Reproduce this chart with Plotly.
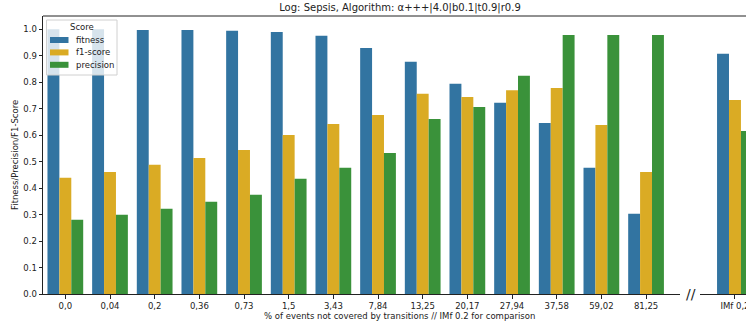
import plotly.graph_objects as go

categories = ["0,0", "0,04", "0,2", "0,36", "0,73", "1,5", "3,43", "7,84",
              "13,25", "20,17", "27,94", "37,58", "59,02", "81,25"]
fitness = [1.0, 1.0, 0.997, 0.997, 0.994, 0.99, 0.975, 0.929, 0.877, 0.794,
           0.722, 0.646, 0.477, 0.303]
f1_score = [0.439, 0.461, 0.488, 0.514, 0.544, 0.601, 0.642, 0.676, 0.756,
            0.744, 0.770, 0.778, 0.638, 0.461]
precision = [0.280, 0.299, 0.322, 0.348, 0.375, 0.435, 0.477, 0.533, 0.661,
             0.706, 0.824, 0.978, 0.978, 0.978]

cmp_category = ["IMf 0,2"]
cmp_fitness = [0.907]
cmp_f1 = [0.733]
cmp_precision = [0.616]

series_names = ["fitness", "f1-score", "precision"]
colors = ["#3274a1", "#daab24", "#3a923a"]

W, H = 746, 325
ml, mr, mt, mb = 43, 0, 16, 31
pw = W - ml - mr
ph = H - mt - mb


def px(x):
    return (x - ml) / pw


def py(y):
    return (H - mb - y) / ph


fig = go.Figure()
for name, vals, cvals, col in zip(series_names, [fitness, f1_score, precision],
                                  [cmp_fitness, cmp_f1, cmp_precision], colors):
    fig.add_trace(go.Bar(x=categories, y=vals, name=name, marker_color=col,
                         marker_line_width=0, xaxis="x", yaxis="y",
                         showlegend=False))
    fig.add_trace(go.Bar(x=cmp_category, y=cvals, name=name, marker_color=col,
                         marker_line_width=0, xaxis="x2", yaxis="y",
                         showlegend=False))

# manual legend (matplotlib-style)
shapes = [dict(type="line", xref="paper", yref="paper", x0=0, x1=1, y0=1, y1=1,
               line=dict(color="#222", width=1))]
x0, x1, y0, y1 = px(46.5), px(117), py(20), py(75)
shapes.append(dict(type="rect", xref="paper", yref="paper", x0=x0, x1=x1, y0=y1, y1=y0,
                   fillcolor="rgba(255,255,255,0.8)", line=dict(color="#d0d0d0", width=1)))
annotations = [dict(text="Score", xref="paper", yref="paper", x=px(81.5), y=py(27.5),
                    xanchor="center", yanchor="middle", showarrow=False,
                    font=dict(size=8.5))]
for i, (name, col) in enumerate(zip(series_names, colors)):
    cy = 40 + i * 12.4
    shapes.append(dict(type="rect", xref="paper", yref="paper",
                       x0=px(50), x1=px(68.5), y0=py(cy + 3), y1=py(cy - 3),
                       fillcolor=col, line=dict(width=0)))
    annotations.append(dict(text=name, xref="paper", yref="paper", x=px(74), y=py(cy),
                            xanchor="left", yanchor="middle", showarrow=False,
                            font=dict(size=8.5)))

annotations += [
    dict(text="% of events not covered by transitions // IMf 0.2 for comparison",
         xref="paper", yref="paper", x=px(400), y=py(316),
         xanchor="center", yanchor="middle", showarrow=False,
         font=dict(size=8.5)),
    dict(text="//", xref="paper", yref="paper", x=px(691), y=py(294),
         xanchor="center", yanchor="middle", showarrow=False,
         font=dict(size=14, color="#222")),
    dict(text="Fitness/Precision/F1-Score", xref="paper", yref="paper",
         x=px(15), y=py(155), xanchor="center", yanchor="middle", textangle=-90,
         showarrow=False, font=dict(size=8.5)),
]

d1 = px(680)
d2 = px(700)
font = "DejaVu Sans"
axcommon = dict(showline=True, linecolor="#222", linewidth=1,
                ticks="outside", ticklen=3.5, tickcolor="#222", tickwidth=1,
                tickfont=dict(size=8.5), showgrid=False, zeroline=False,
                automargin=False)
fig.update_layout(
    width=W, height=H,
    margin=dict(l=ml, r=mr, t=mt, b=mb, autoexpand=False),
    plot_bgcolor="white", paper_bgcolor="white",
    barmode="group", bargap=0.2, bargroupgap=0,
    showlegend=False,
    font=dict(family=font, size=9, color="#222"),
    title=dict(text="Log: Sepsis, Algorithm: α+++|4.0|b0.1|t0.9|r0.9",
               x=400 / W, xanchor="center", y=1 - 7.5 / H, yanchor="middle",
               font=dict(family=font, size=10, color="#222")),
    xaxis=dict(domain=[0, d1], range=[-0.5, 13.76], type="category", **axcommon),
    xaxis2=dict(domain=[d2, 1], range=[-0.78, 0.246], type="category",
                anchor="y", ticklabeloverflow="allow", **axcommon),
    yaxis=dict(range=[0, 1.05], tickvals=[i / 10 for i in range(11)],
               ticktext=[f"{i / 10:.1f}" for i in range(11)], **axcommon),
    shapes=shapes,
    annotations=annotations,
)

fig.write_html("out.html", config={"displayModeBar": False},
               post_script="document.body.style.margin='0';document.body.style.overflow='hidden';")
